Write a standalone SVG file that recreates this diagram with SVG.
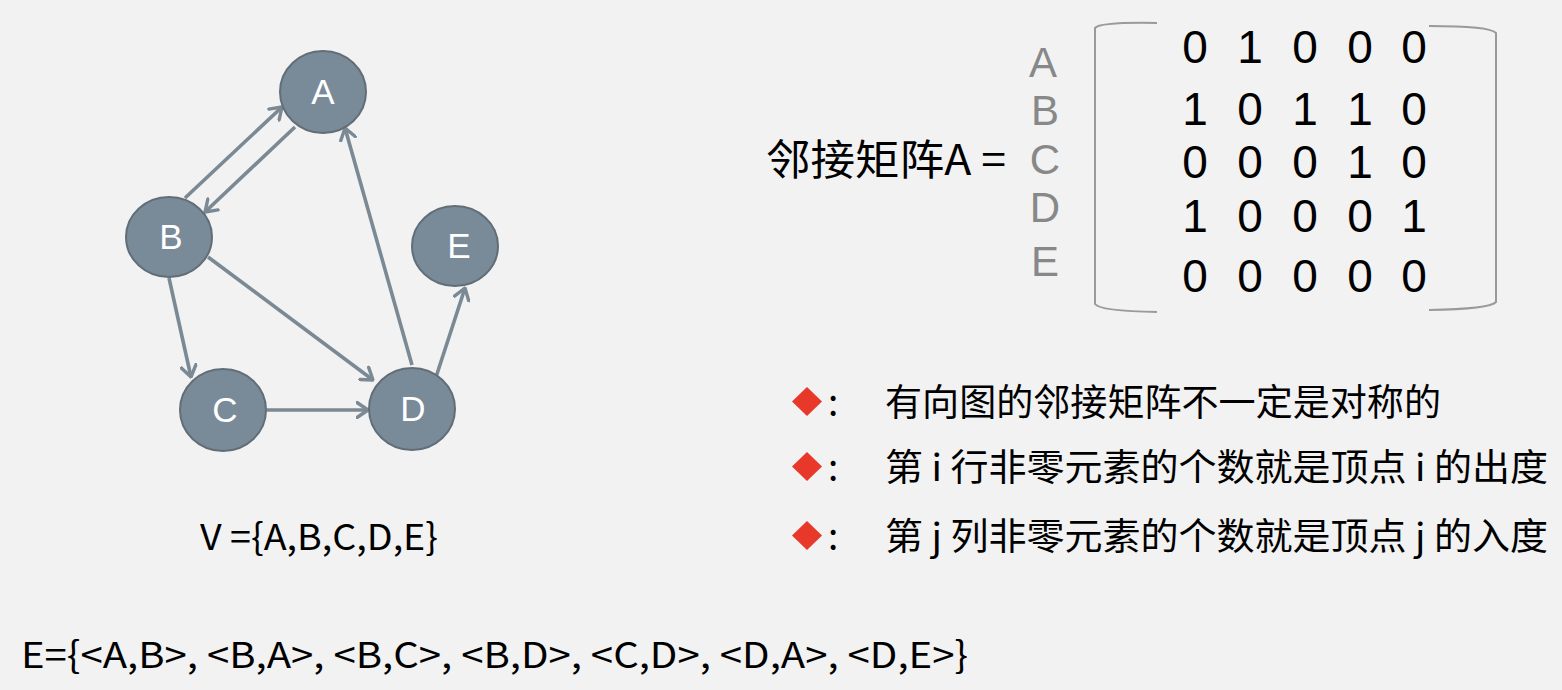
<svg xmlns="http://www.w3.org/2000/svg" width="1562" height="690" viewBox="0 0 1562 690">
<style>
.node{fill:#798a98;stroke:#626e77;stroke-width:2}
.nl{fill:#fff;font-family:"Liberation Sans",Arial,sans-serif;font-size:35px;text-anchor:middle}
.edge{stroke:#7a8994;stroke-width:3.6;fill:none;marker-end:url(#arr)}
.rl{fill:#888;font-family:"Liberation Sans",Arial,sans-serif;font-size:42px;text-anchor:middle}
.num{fill:#000;font-family:"Liberation Sans",Arial,sans-serif;font-size:46px;text-anchor:middle}
.cn{fill:#000;font-family:"Noto Sans CJK SC","Noto Sans",sans-serif;font-size:37px}
.br{fill:none;stroke:#9a9a9a;stroke-width:2}
</style>
<defs>
<marker id="arr" viewBox="0 0 14 18" refX="12.5" refY="9" markerWidth="14" markerHeight="18" markerUnits="userSpaceOnUse" orient="auto">
<path d="M1.5,1.5 L12.5,9 L1.5,16.5" fill="none" stroke="#7a8994" stroke-width="3.4" stroke-linecap="round" stroke-linejoin="round"/>
</marker>
</defs>
<rect width="1562" height="690" fill="#f2f2f2"/>
<g id="connectors">
<line class="edge" x1="295" y1="127" x2="205" y2="212"/>
<line class="edge" x1="185" y1="198" x2="282" y2="107"/>
<line class="edge" x1="169" y1="278" x2="191" y2="377"/>
<line class="edge" x1="208" y1="257" x2="373" y2="380"/>
<line class="edge" x1="267" y1="410" x2="368" y2="410"/>
<line class="edge" x1="412" y1="365" x2="345" y2="128"/>
<line class="edge" x1="436" y1="377" x2="465" y2="288"/>
</g>
<g id="node-A"><ellipse class="node" cx="323" cy="92" rx="43" ry="41"/><text class="nl" x="323" y="104">A</text></g>
<g id="node-B"><ellipse class="node" cx="169" cy="237" rx="43" ry="40"/><text class="nl" x="171" y="249">B</text></g>
<g id="node-C"><ellipse class="node" cx="223" cy="410" rx="43" ry="41"/><text class="nl" x="225" y="422">C</text></g>
<g id="node-D"><ellipse class="node" cx="412" cy="409" rx="43" ry="41"/><text class="nl" x="413" y="421">D</text></g>
<g id="node-E"><ellipse class="node" cx="455" cy="246" rx="43" ry="40"/><text class="nl" x="459" y="258">E</text></g>
<g id="sets">
<text x="200" y="550" font-family="Noto Sans CJK SC,Noto Sans,sans-serif" font-size="36" textLength="238" lengthAdjust="spacingAndGlyphs">V ={A,B,C,D,E}</text>
<text x="21" y="668" font-family="Noto Sans CJK SC,Noto Sans,sans-serif" font-size="36" textLength="947" lengthAdjust="spacingAndGlyphs">E={&lt;A,B&gt;, &lt;B,A&gt;, &lt;B,C&gt;, &lt;B,D&gt;, &lt;C,D&gt;, &lt;D,A&gt;, &lt;D,E&gt;}</text>
</g>
<g id="matrix">
<text x="766" y="175" font-family="Noto Sans CJK SC,Noto Sans,sans-serif" font-size="42" textLength="240" lengthAdjust="spacingAndGlyphs">邻接矩阵A =</text>
<text class="rl" x="1043" y="77">A</text>
<text class="rl" x="1045" y="125">B</text>
<text class="rl" x="1045" y="174">C</text>
<text class="rl" x="1045" y="222">D</text>
<text class="rl" x="1045" y="276">E</text>
<path class="br" d="M1157,23 Q1100,22 1095,28 L1095,304 Q1100,311 1157,312"/>
<path class="br" d="M1429,26 Q1490,26 1496,33 L1496,302 Q1490,309 1429,310"/>
<g class="num">
<text x="1195" y="63">0</text><text x="1250" y="63">1</text><text x="1305" y="63">0</text><text x="1360" y="63">0</text><text x="1414" y="63">0</text>
<text x="1195" y="125">1</text><text x="1250" y="125">0</text><text x="1305" y="125">1</text><text x="1360" y="125">1</text><text x="1414" y="125">0</text>
<text x="1195" y="178">0</text><text x="1250" y="178">0</text><text x="1305" y="178">0</text><text x="1360" y="178">1</text><text x="1414" y="178">0</text>
<text x="1195" y="232">1</text><text x="1250" y="232">0</text><text x="1305" y="232">0</text><text x="1360" y="232">0</text><text x="1414" y="232">1</text>
<text x="1195" y="292">0</text><text x="1250" y="292">0</text><text x="1305" y="292">0</text><text x="1360" y="292">0</text><text x="1414" y="292">0</text>
</g>
</g>
<g id="notes">
<polygon points="807,387 822,401.5 807,416 792,401.5" fill="#e8382a"/>
<polygon points="807,452 822,466.5 807,481 792,466.5" fill="#e8382a"/>
<polygon points="807,521 822,535.5 807,550 792,535.5" fill="#e8382a"/>
<text class="cn" x="828" y="416">:</text>
<text class="cn" x="828" y="481">:</text>
<text class="cn" x="828" y="550">:</text>
<text class="cn" x="885" y="416" textLength="556" lengthAdjust="spacingAndGlyphs">有向图的邻接矩阵不一定是对称的</text>
<text class="cn" x="885" y="481" textLength="663" lengthAdjust="spacingAndGlyphs">第 i 行非零元素的个数就是顶点 i 的出度</text>
<text class="cn" x="885" y="550" textLength="663" lengthAdjust="spacingAndGlyphs">第 j 列非零元素的个数就是顶点 j 的入度</text>
</g>
</svg>
